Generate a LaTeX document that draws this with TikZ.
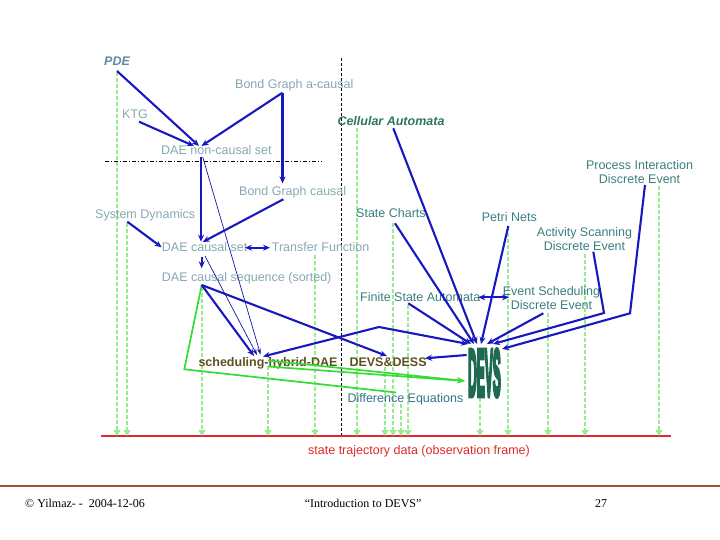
\documentclass[tikz,border=0pt]{standalone}
\usepackage{fontspec}
\setmainfont{Liberation Sans}
\newfontfamily\footfont{Liberation Serif}
\usetikzlibrary{arrows.meta}
\definecolor{lgray}{HTML}{86A8B0}
\definecolor{pdec}{HTML}{5A8C9E}
\definecolor{cac}{HTML}{2F7565}
\definecolor{tealc}{HTML}{3A7F7E}
\definecolor{olivec}{HTML}{5C5020}
\definecolor{devsc}{HTML}{1F6B50}
\definecolor{redc}{HTML}{DD2A2A}
\definecolor{myblue}{HTML}{1818C0}
\definecolor{lgreen}{HTML}{98EC90}
\definecolor{bgreen}{HTML}{33DD33}
\definecolor{brownc}{HTML}{A0522D}
\newcommand\heavytext[1]{\special{pdf:code 2 Tr 1.6 w}#1\special{pdf:code 0 Tr}}
\begin{document}
\begin{tikzpicture}[x=1pt,y=-1pt,
  lbl/.style={anchor=base west, inner sep=0pt, font=\fontsize{12.5}{14}\selectfont, text=lgray},
  rlbl/.style={lbl, text=tealc},
  clbl/.style={lbl, anchor=base, text=tealc},
  blu/.style={draw=myblue, line width=2.1pt, -{Stealth[length=7pt,width=6pt]}},
  blub/.style={draw=myblue, line width=2.1pt, {Stealth[length=7pt,width=6pt]}-{Stealth[length=7pt,width=6pt]}},
  thinb/.style={draw=myblue!85!black, line width=0.7pt, -{Stealth[length=6pt,width=4pt]}},
  gdash/.style={draw=lgreen, line width=2.6pt, dash pattern=on 4pt off 2pt, -{Triangle[length=6pt,width=7pt,fill=lgreen]}},
  gline/.style={draw=bgreen, line width=1.7pt},
  foot/.style={anchor=base west, inner sep=0pt, font=\footfont\fontsize{12}{14}\selectfont}]
\useasboundingbox (0,0) rectangle (720,540);

% separators
\draw[black, line width=0.6pt, dash pattern=on 4pt off 2pt on 1pt off 2pt] (105,161.7) -- (322,161.7);
\draw[black, line width=0.6pt, dash pattern=on 3pt off 2pt] (341.5,58) -- (341.5,438);
\draw[redc, line width=1.3pt] (101,436) coordinate (rl) -- (671,436) coordinate (rr);
\draw[brownc, line width=1.2pt] (0,486) -- (720,486);

% green dashed observation arrows
\foreach \xx/\yy in {117/72,127/223,202/287,268/366,315/255,357/128,385/367,393/223,401/404,408/305,480/398,508/227,548/313,585/254,659/186}{
  \coordinate (gs\xx) at (\xx,\yy);
  \coordinate (ge\xx) at (\xx,436);
  \draw[gdash] (gs\xx) -- (ge\xx);
}

% label nodes
\node[lbl, text=pdec, font=\fontsize{12.5}{14}\selectfont\bfseries\itshape] (pde) at (104,66) {PDE};
\node[lbl] (bga) at (235,88.3) {Bond Graph a-causal};
\node[lbl] (ktg) at (122,118.3) {KTG};
\node[lbl] (daen) at (161,154.3) {DAE non-causal set};
\node[lbl, text=cac, font=\fontsize{12.5}{14}\selectfont\bfseries\itshape] (ca) at (337.3,126) {Cellular Automata};
\node[lbl] (bgc) at (239,196) {Bond Graph causal};
\node[lbl] (sd) at (95,218.3) {System Dynamics};
\node[rlbl] (sc) at (356,217.3) {State Charts};
\node[rlbl] (pn) at (481.7,221.7) {Petri Nets};
\node[clbl] (pi1) at (639.5,170) {Process Interaction};
\node[clbl] (pi2) at (639.5,184) {Discrete Event};
\node[clbl] (as1) at (584.5,236.7) {Activity Scanning};
\node[clbl] (as2) at (584.5,250.7) {Discrete Event};
\node[lbl] (dcs) at (161.7,251.7) {DAE causal set};
\node[lbl] (tf) at (271.7,251.7) {Transfer Function};
\node[lbl] (dseq) at (161.7,281.7) {DAE causal sequence (sorted)};
\node[rlbl] (fsa) at (360,301.7) {Finite State Automata};
\node[clbl] (es1) at (551.5,295.7) {Event Scheduling};
\node[clbl] (es2) at (551.5,309.7) {Discrete Event};
\node[lbl, text=olivec, font=\fontsize{12.5}{14}\selectfont\bfseries] (shd) at (198.3,366) {scheduling-hybrid-DAE};
\node[lbl, text=olivec, font=\fontsize{12.5}{14}\selectfont\bfseries] (dd) at (349.3,366) {DEVS\&DESS};
\node[anchor=center, inner sep=0pt, text=devsc, font=\fontsize{20}{20}\selectfont\bfseries] (devs) at (484.5,373) {\scalebox{0.6}[3.3]{\heavytext{DEVS}}};
\node[lbl, text=tealc!90!blue] (de) at (347.3,402.3) {Difference Equations};
\node[lbl, text=redc] (std) at (308,454) {state trajectory data (observation frame)};
\node[foot] (f1) at (25,507) {© Yilmaz- -\ \ 2004-12-06};
\node[foot] (f2) at (304.6,507) {“Introduction to DEVS”};
\node[foot] (f3) at (595,507) {27};

% connector end points
\coordinate (pdeS) at (117,71);
\coordinate (ktgS) at (139,121.7);
\coordinate (bgaS) at (282.5,92.7);
\coordinate (daenT1) at (199,146);
\coordinate (daenT2) at (194,146);
\coordinate (daenT3) at (201.5,146);
\coordinate (bgcT) at (282.5,183.5);
\coordinate (daenB) at (201,156.7);
\coordinate (daenB2) at (202.7,157);
\coordinate (dcsT) at (201,241.7);
\coordinate (dcsT2) at (202.7,242);
\coordinate (bgcB) at (283.3,199.3);
\coordinate (sdS) at (127.3,221.7);
\coordinate (dcsL) at (161.7,247.3);
\coordinate (dcsR) at (245,247.7);
\coordinate (tfL) at (270,247.7);
\coordinate (dcsB) at (201.7,256.7);
\coordinate (dcsB2) at (205,256);
\coordinate (dseqT) at (201.7,268.3);
\coordinate (dseqB) at (201.7,285);
\coordinate (shdT1) at (254,356);
\coordinate (shdT2) at (257,355);
\coordinate (shdT3) at (260.5,354.5);
\coordinate (shdT4) at (263,356.5);
\coordinate (ddT) at (387,356);
\coordinate (ddR) at (425,358.3);
\coordinate (bend) at (379,327);
\coordinate (devsL) at (466.7,355);
\coordinate (devsT0) at (468,344);
\coordinate (devsT1) at (471,344);
\coordinate (devsT2) at (474,344);
\coordinate (devsT3) at (477,344);
\coordinate (devsT4) at (481,344);
\coordinate (devsT5) at (487,344);
\coordinate (devsT6) at (493,344);
\coordinate (devsT7) at (502,349);
\coordinate (caS) at (393.3,128.3);
\coordinate (scS) at (395,223.3);
\coordinate (fsaS) at (408.3,303.3);
\coordinate (pnS) at (508.3,226);
\coordinate (esS) at (543.3,313.3);
\coordinate (asS) at (593.3,251.7);
\coordinate (asB) at (604,313);
\coordinate (piS) at (645,185);
\coordinate (piB) at (630,313.3);
\coordinate (fsaR) at (478.3,297.3);
\coordinate (esL) at (509,297.3);
\coordinate (gcorner) at (184.3,369.3);
\coordinate (deT) at (396,392.5);
\coordinate (shdG) at (268,366.5);
\coordinate (shdG2) at (268,360.5);
\coordinate (devsG) at (465,381);

% green solid connectors
\draw[gline] (dseqB) -- (gcorner) -- (deT);
\draw[gline, -{Stealth[length=8pt,width=6pt]}] (shdG) -- (devsG);
\draw[gline, -{Stealth[length=8pt,width=6pt]}] (shdG2) -- (devsG);

% thin blue connectors
\draw[thinb] (daenB2) -- (shdT3);
\draw[thinb] (dcsB2) -- (shdT2);

% blue connectors (upper left)
\draw[blu] (pdeS) -- (daenT1);
\draw[blu] (ktgS) -- (daenT2);
\draw[blu] (bgaS) -- (daenT3);
\draw[blu] (bgaS) -- (bgcT);
\draw[blu] (daenB) -- (dcsT);
\draw[blu] (bgcB) -- (dcsT2);
\draw[blu] (sdS) -- (dcsL);
\draw[blub] (dcsR) -- (tfL);
\draw[blu] (dcsB) -- (dseqT);
\draw[blu] (dseqB) -- (shdT1);
\draw[blu] (dseqB) -- (ddT);
\draw[blub] (shdT4) -- (bend) -- (devsT0);
\draw[blu] (devsL) -- (ddR);

% blue connectors into DEVS
\draw[blu] (fsaS) -- (devsT1);
\draw[blu] (scS) -- (devsT2);
\draw[blu] (caS) -- (devsT3);
\draw[blu] (pnS) -- (devsT4);
\draw[blu] (esS) -- (devsT5);
\draw[blu] (asS) -- (asB) -- (devsT6);
\draw[blu] (piS) -- (piB) -- (devsT7);
\draw[blub] (fsaR) -- (esL);
\end{tikzpicture}
\end{document}
